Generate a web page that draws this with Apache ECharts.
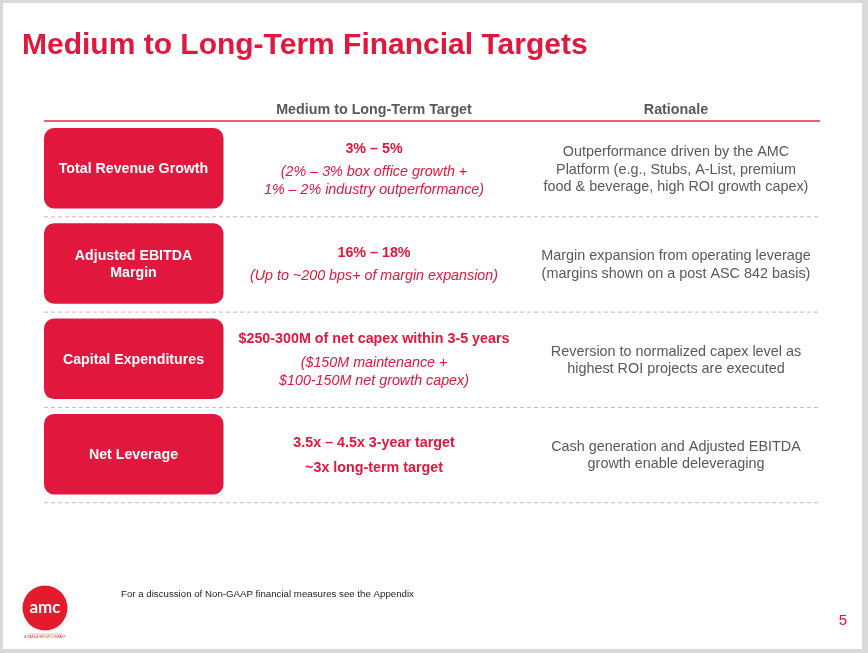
<!DOCTYPE html>
<html lang="en">
<head>
  <meta charset="UTF-8">
  <title>Medium to Long-Term Financial Targets</title>
  <style>
    html, body { margin: 0; padding: 0; background: #d9d9d9; }
    #chart { width: 868px; height: 653px; }
  </style>
  <script src="https://cdn.jsdelivr.net/npm/echarts@6.0.0/dist/echarts.min.js"></script>
</head>
<body>
  <div id="chart"></div>
<script>
  // slide text
  var title = 'Medium to Long-Term Financial Targets';
  var headers = ['Medium to Long-Term Target', 'Rationale'];
  var metrics = ['Total Revenue Growth', 'Adjusted EBITDA\nMargin', 'Capital Expenditures', 'Net Leverage'];
  var targetMain = [
    ['3% – 5%'],
    ['16% – 18%'],
    ['$250-300M of net capex within 3-5 years'],
    ['3.5x – 4.5x 3-year target', '~3x long-term target']
  ];
  var targetNote = [
    ['(2% – 3% box office growth +', '1% – 2% industry outperformance)'],
    ['(Up to ~200 bps+ of margin expansion)'],
    ['($150M maintenance +', '$100-150M net growth capex)'],
    []
  ];
  var rationale = [
    ['Outperformance driven by the AMC', 'Platform (e.g., Stubs, A-List, premium', 'food & beverage, high ROI growth capex)'],
    ['Margin expansion from operating leverage', '(margins shown on a post ASC 842 basis)'],
    ['Reversion to normalized capex level as', 'highest ROI projects are executed'],
    ['Cash generation and Adjusted EBITDA', 'growth enable deleveraging']
  ];
  var footnote = 'For a discussion of Non-GAAP financial measures see the Appendix';
  var pageNo = '5';

  var RED = '#e2173d';
  var GREY = '#595959';
  var FONT = '"Liberation Sans", Arial, sans-serif';

  function txt(x, y, s, font, color, align) {
    return {
      type: 'text', x: x, y: y,
      style: {
        text: s, font: font, fill: color,
        align: align || 'center', verticalAlign: 'middle',
        textAlign: align || 'center', textVerticalAlign: 'middle'
      }
    };
  }

  var g = [];
  // white slide on grey frame
  g.push({ type: 'rect', shape: { x: 3, y: 3, width: 859, height: 646 }, style: { fill: '#fff' } });
  g.push(txt(22, 46, title, 'bold 30px ' + FONT, RED, 'left'));

  // header
  var midX = 374, rightX = 676;
  g.push(txt(midX, 110, headers[0], 'bold 14.3px ' + FONT, GREY));
  g.push(txt(rightX, 110, headers[1], 'bold 14.3px ' + FONT, GREY));
  g.push({ type: 'line', shape: { x1: 44, y1: 121, x2: 820, y2: 121 }, style: { stroke: '#e3284f', lineWidth: 1.5 } });

  var top0 = 128, step = 95.3, boxH = 80.5;
  metrics.forEach(function (m, i) {
    var top = top0 + i * step;
    var cy = top + boxH / 2;
    g.push({ type: 'rect', shape: { x: 44, y: top, width: 179.5, height: boxH, r: 10 }, style: { fill: RED } });
    var ml = m.split('\n');
    ml.forEach(function (s, k) {
      g.push(txt(133.5, cy + 1 + (k - (ml.length - 1) / 2) * 17, s, 'bold 14.2px ' + FONT, '#fff'));
    });

    // middle column: bold lines then italic notes
    var lines = [];
    targetMain[i].forEach(function (s) { lines.push({ s: s, f: 'bold 14.3px ' + FONT }); });
    targetNote[i].forEach(function (s) { lines.push({ s: s, f: 'italic 14.3px ' + FONT, note: true }); });
    var ys = [0];
    for (var k = 1; k < lines.length; k++) {
      var gap = lines[k].note ? (lines[k - 1].note ? 17.5 : 23.5) : 25;
      ys.push(ys[k - 1] + gap);
    }
    var off = cy + 1.2 - ys[ys.length - 1] / 2;
    lines.forEach(function (l, k) { g.push(txt(midX, off + ys[k], l.s, l.f, RED)); });

    // rationale
    var r = rationale[i];
    r.forEach(function (s, k) {
      g.push(txt(rightX, cy + 1.5 + (k - (r.length - 1) / 2) * 17.5, s, '14.4px ' + FONT, GREY));
    });

    // dashed separator
    var dy = top + boxH + 8.3;
    g.push({ type: 'line', shape: { x1: 44, y1: dy, x2: 820, y2: dy }, style: { stroke: '#bdbdbd', lineWidth: 1, lineDash: [4, 3] } });
  });

  // footer
  g.push(txt(121, 594.5, footnote, '9.7px ' + FONT, '#222', 'left'));
  g.push(txt(843, 621, pageNo, '15px ' + FONT, RED));

  // logo
  g.push({ type: 'circle', shape: { cx: 45, cy: 608, r: 22.5 }, style: { fill: '#e31b2b' } });
  g.push(txt(45, 608, 'amc', 'bold 17px Lato, ' + FONT, '#fff'));
  g.push({ type: 'line', shape: { x1: 28, y1: 634, x2: 62, y2: 634 }, style: { stroke: '#e8868f', lineWidth: 0.6 } });
  g.push(txt(45, 637, 'A WANDA GROUP COMPANY', '3px ' + FONT, '#c0392b'));

  var myChart = echarts.init(document.getElementById('chart'));
  myChart.setOption({
    backgroundColor: '#d9d9d9',
    graphic: { elements: g }
  });
</script>
</body>
</html>
